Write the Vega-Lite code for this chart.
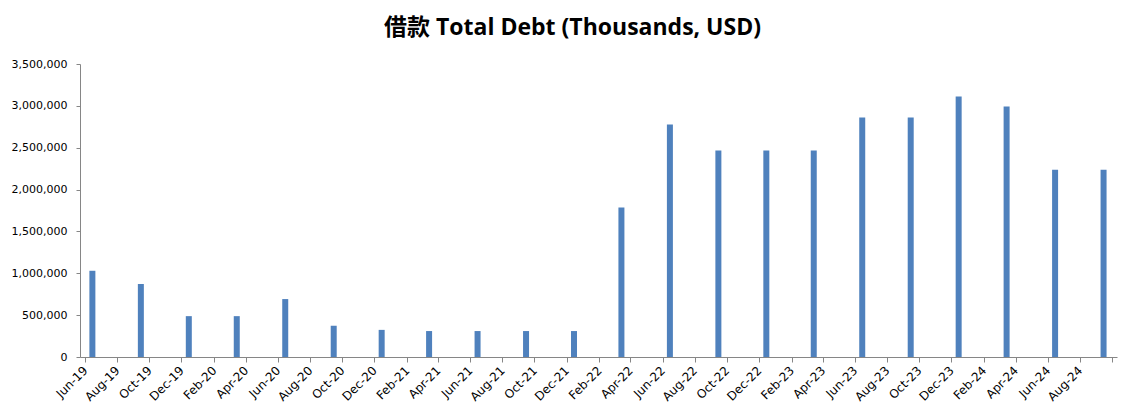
{
  "$schema": "https://vega.github.io/schema/vega-lite/v6.json",
  "width": 1037,
  "height": 293,
  "autosize": {"type": "none"},
  "padding": {"left": 80, "top": 64, "right": 28, "bottom": 56},
  "background": "white",
  "title": {
    "text": "借款 Total Debt (Thousands, USD)",
    "font": "Open Sans, Noto Sans CJK SC",
    "fontSize": 23,
    "fontWeight": "bold",
    "color": "#000000",
    "anchor": "middle",
    "dx": -26,
    "offset": 0,
    "baseline": "alphabetic"
  },
  "data": {
    "values": [
      {"date": "2019-06-15", "debt": 1030000},
      {"date": "2019-09-15", "debt": 872000},
      {"date": "2019-12-15", "debt": 488000},
      {"date": "2020-03-15", "debt": 488000},
      {"date": "2020-06-15", "debt": 692000},
      {"date": "2020-09-15", "debt": 372000},
      {"date": "2020-12-15", "debt": 324000},
      {"date": "2021-03-15", "debt": 310000},
      {"date": "2021-06-15", "debt": 310000},
      {"date": "2021-09-15", "debt": 310000},
      {"date": "2021-12-15", "debt": 310000},
      {"date": "2022-03-15", "debt": 1785000},
      {"date": "2022-06-15", "debt": 2778000},
      {"date": "2022-09-15", "debt": 2466000},
      {"date": "2022-12-15", "debt": 2466000},
      {"date": "2023-03-15", "debt": 2466000},
      {"date": "2023-06-15", "debt": 2862000},
      {"date": "2023-09-15", "debt": 2862000},
      {"date": "2023-12-15", "debt": 3113000},
      {"date": "2024-03-15", "debt": 2993000},
      {"date": "2024-06-15", "debt": 2238000},
      {"date": "2024-09-15", "debt": 2238000}
    ]
  },
  "mark": {"type": "bar", "size": 6, "color": "#4F81BD"},
  "encoding": {
    "x": {
      "field": "date",
      "type": "temporal",
      "scale": {
        "type": "utc",
        "domain": [
          {"year": 2019, "month": 6, "date": 1, "utc": true},
          {"year": 2024, "month": 10, "date": 1, "utc": true}
        ],
        "nice": false
      },
      "axis": {
        "title": null,
        "grid": false,
        "values": [
          {"year": 2019, "month": 6, "date": 1, "utc": true},
          {"year": 2019, "month": 8, "date": 1, "utc": true},
          {"year": 2019, "month": 10, "date": 1, "utc": true},
          {"year": 2019, "month": 12, "date": 1, "utc": true},
          {"year": 2020, "month": 2, "date": 1, "utc": true},
          {"year": 2020, "month": 4, "date": 1, "utc": true},
          {"year": 2020, "month": 6, "date": 1, "utc": true},
          {"year": 2020, "month": 8, "date": 1, "utc": true},
          {"year": 2020, "month": 10, "date": 1, "utc": true},
          {"year": 2020, "month": 12, "date": 1, "utc": true},
          {"year": 2021, "month": 2, "date": 1, "utc": true},
          {"year": 2021, "month": 4, "date": 1, "utc": true},
          {"year": 2021, "month": 6, "date": 1, "utc": true},
          {"year": 2021, "month": 8, "date": 1, "utc": true},
          {"year": 2021, "month": 10, "date": 1, "utc": true},
          {"year": 2021, "month": 12, "date": 1, "utc": true},
          {"year": 2022, "month": 2, "date": 1, "utc": true},
          {"year": 2022, "month": 4, "date": 1, "utc": true},
          {"year": 2022, "month": 6, "date": 1, "utc": true},
          {"year": 2022, "month": 8, "date": 1, "utc": true},
          {"year": 2022, "month": 10, "date": 1, "utc": true},
          {"year": 2022, "month": 12, "date": 1, "utc": true},
          {"year": 2023, "month": 2, "date": 1, "utc": true},
          {"year": 2023, "month": 4, "date": 1, "utc": true},
          {"year": 2023, "month": 6, "date": 1, "utc": true},
          {"year": 2023, "month": 8, "date": 1, "utc": true},
          {"year": 2023, "month": 10, "date": 1, "utc": true},
          {"year": 2023, "month": 12, "date": 1, "utc": true},
          {"year": 2024, "month": 2, "date": 1, "utc": true},
          {"year": 2024, "month": 4, "date": 1, "utc": true},
          {"year": 2024, "month": 6, "date": 1, "utc": true},
          {"year": 2024, "month": 8, "date": 1, "utc": true},
          {"year": 2024, "month": 10, "date": 1, "utc": true}
        ],
        "labelExpr": "datum.value > utc(2024, 8, 15) ? '' : utcFormat(datum.value, '%b-%y')",
        "labelAngle": -45,
        "labelAlign": "right",
        "labelBaseline": "middle",
        "labelPadding": 6,
        "labelFont": "DejaVu Sans",
        "labelFontSize": 12,
        "labelColor": "#000000",
        "labelOverlap": false,
        "labelBound": false,
        "domainColor": "#868686",
        "tickColor": "#868686",
        "tickSize": 5
      }
    },
    "y": {
      "field": "debt",
      "type": "quantitative",
      "scale": {"domain": [0, 3500000], "nice": false},
      "axis": {
        "title": null,
        "grid": false,
        "values": [0, 500000, 1000000, 1500000, 2000000, 2500000, 3000000, 3500000],
        "format": ",.0f",
        "labelFont": "DejaVu Sans",
        "labelFontSize": 11,
        "labelColor": "#000000",
        "labelPadding": 9,
        "domainColor": "#868686",
        "tickColor": "#868686",
        "tickSize": 4
      }
    }
  },
  "config": {"view": {"stroke": null}}
}
